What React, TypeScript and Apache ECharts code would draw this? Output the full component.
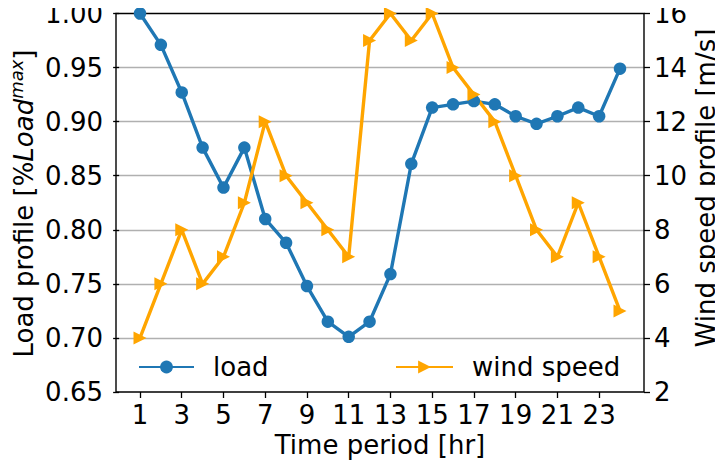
import React, { useEffect, useRef } from "react";
import * as echarts from "echarts";

// Hourly profiles over one day
const hours = [1, 2, 3, 4, 5, 6, 7, 8, 9, 10, 11, 12, 13, 14, 15, 16, 17, 18, 19, 20, 21, 22, 23, 24];
const loadProfile = [
  1.0, 0.971, 0.927, 0.876, 0.839, 0.876, 0.81, 0.788, 0.748, 0.715, 0.701, 0.715,
  0.759, 0.861, 0.913, 0.916, 0.919, 0.916, 0.905, 0.898, 0.905, 0.913, 0.905, 0.949,
];
const windSpeed = [4, 6, 8, 6, 7, 9, 12, 10, 9, 8, 7, 15, 16, 15, 16, 14, 13, 12, 10, 8, 7, 9, 7, 5];
const hourTicks = [1, 3, 5, 7, 9, 11, 13, 15, 17, 19, 21, 23];

const FONT = "DejaVu Sans";
const BLUE = "#1f77b4";
const ORANGE = "#ffa500";
const RIGHT_TRIANGLE = "path://M0,0L2,1L0,2Z";

export default function App() {
  const ref = useRef<HTMLDivElement>(null);

  useEffect(() => {
    if (!ref.current) return;
    const chart = echarts.init(ref.current, undefined, { renderer: "svg" });

    const axisLabelBase = { color: "#000", fontFamily: FONT, fontSize: 26, lineHeight: 22 };
    const tickStyle = { show: true, length: 6, lineStyle: { color: "#000", width: 1.3 } };

    chart.setOption({
      animation: false,
      backgroundColor: "#fff",
      textStyle: { fontFamily: FONT },
      grid: {
        left: 116,
        right: 79,
        top: 13.5,
        bottom: 76,
        show: true,
        borderColor: "#000",
        borderWidth: 1.4,
        backgroundColor: "transparent",
        z: 3,
      },
      xAxis: {
        type: "value",
        min: -0.15,
        max: 25.15,
        axisLine: { show: false },
        splitLine: { show: false },
        axisTick: { ...tickStyle, customValues: hourTicks },
        axisLabel: { ...axisLabelBase, margin: 12, customValues: hourTicks },
      },
      yAxis: [
        {
          type: "value",
          min: 0.65,
          max: 1.0,
          interval: 0.05,
          position: "left",
          axisLine: { show: false },
          axisTick: tickStyle,
          axisLabel: {
            ...axisLabelBase,
            margin: 13,
            formatter: (v: number) => v.toFixed(2),
          },
          splitLine: {
            show: true,
            showMinLine: false,
            showMaxLine: false,
            lineStyle: { color: "#b0b0b0", width: 1.3 },
          },
        },
        {
          type: "value",
          min: 2,
          max: 16,
          interval: 2,
          position: "right",
          axisLine: { show: false },
          axisTick: tickStyle,
          axisLabel: { ...axisLabelBase, margin: 10 },
          splitLine: { show: false },
        },
      ],
      legend: [
        {
          data: ["load"],
          left: 138,
          top: 354,
          padding: 0,
          itemWidth: 55,
          itemHeight: 16,
          textStyle: { color: "#000", fontFamily: FONT, fontSize: 26, padding: [0, 0, 0, 14] },
        },
        {
          data: ["wind speed"],
          left: 395,
          top: 354,
          padding: 0,
          itemWidth: 57,
          itemHeight: 16,
          textStyle: { color: "#000", fontFamily: FONT, fontSize: 26, padding: [0, 0, 0, 14] },
        },
      ],
      series: [
        {
          name: "load",
          type: "line",
          yAxisIndex: 0,
          data: hours.map((h, i) => [h, loadProfile[i]]),
          symbol: "circle",
          symbolSize: 12.5,
          color: BLUE,
          lineStyle: { color: BLUE, width: 3.4 },
          itemStyle: { color: BLUE },
        },
        {
          name: "wind speed",
          type: "line",
          yAxisIndex: 1,
          data: hours.map((h, i) => [h, windSpeed[i]]),
          symbol: RIGHT_TRIANGLE,
          symbolSize: 13,
          color: ORANGE,
          lineStyle: { color: ORANGE, width: 3.4 },
          itemStyle: { color: ORANGE },
        },
      ],
      graphic: [
        {
          type: "text",
          x: 24.3,
          y: 203.5,
          rotation: Math.PI / 2,
          style: {
            text: "{n|Load profile [%}{i|Load}{s|max}{n|]}",
            align: "center",
            verticalAlign: "middle",
            fill: "#000",
            rich: {
              n: { fontFamily: FONT, fontSize: 26, lineHeight: 34, fill: "#000" },
              i: { fontFamily: FONT, fontSize: 26, lineHeight: 34, fontStyle: "italic", fill: "#000" },
              s: {
                fontFamily: FONT,
                fontSize: 18,
                lineHeight: 19,
                fontStyle: "italic",
                verticalAlign: "top",
                fill: "#000",
              },
            },
          },
        },
        {
          type: "text",
          x: 706,
          y: 188,
          rotation: Math.PI / 2,
          style: {
            text: "Wind speed profile [m/s]",
            align: "center",
            verticalAlign: "middle",
            fill: "#000",
            font: `26px "${FONT}"`,
            lineHeight: 24,
          },
        },
        {
          type: "text",
          x: 380,
          y: 445,
          style: {
            text: "Time period [hr]",
            align: "center",
            verticalAlign: "middle",
            fill: "#000",
            font: `26px "${FONT}"`,
            lineHeight: 24,
          },
        },
      ],
    });

    return () => chart.dispose();
  }, []);

  return <div ref={ref} style={{ width: 723, height: 468, margin: -8 }} />;
}
